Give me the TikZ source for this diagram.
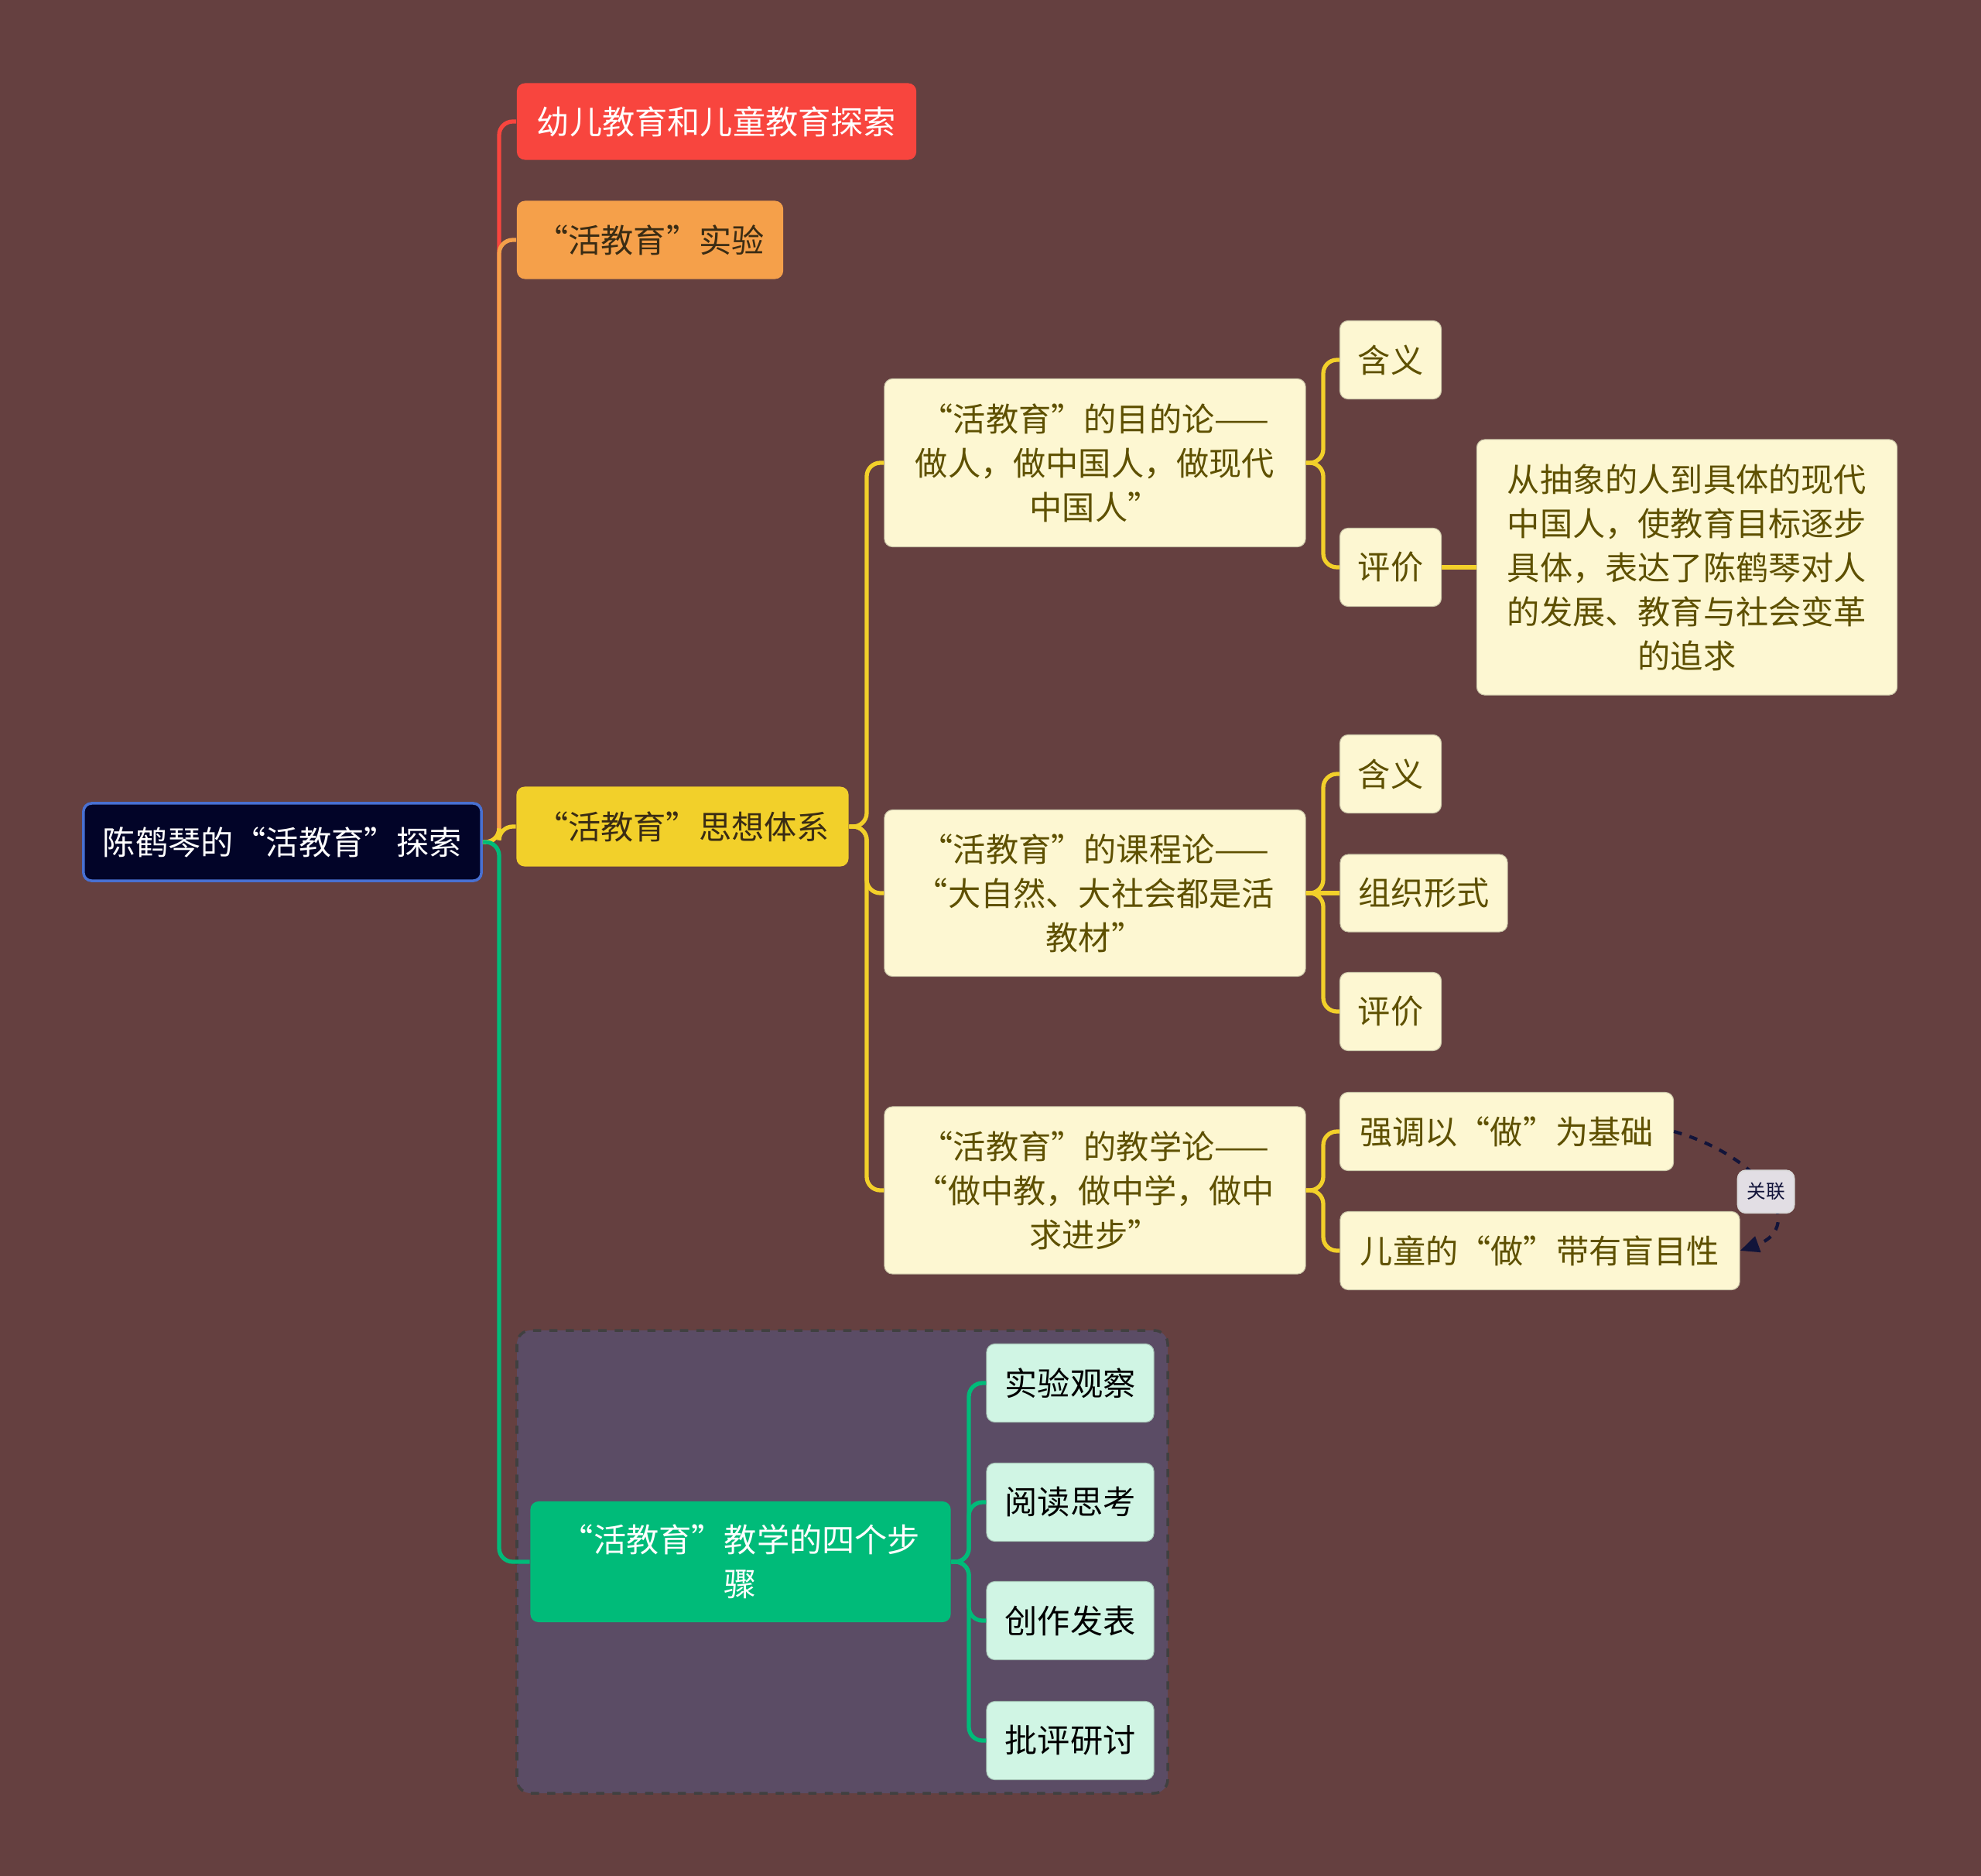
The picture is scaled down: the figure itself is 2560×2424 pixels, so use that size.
\documentclass[tikz,border=0pt]{standalone}
\usepackage{fontspec}
\newfontfamily\cjk{Noto Sans CJK SC}
\usetikzlibrary{arrows.meta}
\definecolor{bgbrown}{RGB}{101,64,64}
\definecolor{rootnavy}{RGB}{2,4,40}
\definecolor{rootline}{RGB}{72,112,210}
\definecolor{redn}{RGB}{248,69,62}
\definecolor{orangen}{RGB}{245,160,74}
\definecolor{yellown}{RGB}{242,208,42}
\definecolor{greenn}{RGB}{0,187,121}
\definecolor{creamn}{RGB}{253,247,210}
\definecolor{mintn}{RGB}{208,245,228}
\definecolor{boxpurple}{RGB}{91,76,101}
\definecolor{olivetext}{RGB}{94,80,0}
\definecolor{darktext}{RGB}{58,44,20}
\definecolor{relnavy}{RGB}{18,20,58}
\definecolor{tagfill}{RGB}{226,222,228}

\begin{document}
\begin{tikzpicture}[
    x=0.01cm, y=-0.01cm,
    box/.style={rounded corners=3pt, inner sep=0pt, align=center, font=\cjk\fontsize{12}{16.2}\selectfont},
    topic/.style={box, fill=#1},
    leaf/.style={box, fill=creamn, draw=creamn!80!black, line width=0.3pt, text=olivetext},
    mint/.style={box, fill=mintn, draw=mintn!80!black, line width=0.3pt, text=black},
    link/.style={line width=1.5pt, rounded corners=5pt, draw=#1},
    rel/.style={draw=relnavy, line width=1.2pt, dashed, -{Triangle[length=7pt,width=6pt]}},
    tag/.style={rounded corners=3pt, fill=tagfill, draw=white!70!gray, line width=0.5pt, inner sep=0pt,
        minimum width=0.73cm, minimum height=0.55cm, text=relnavy, font=\cjk\fontsize{7}{8}\selectfont}
]
    \useasboundingbox[fill=bgbrown] (0,0) rectangle (2560,2424);

    % group frame for the four steps
    \draw[fill=boxpurple, draw=black!75, dashed, line width=1pt, rounded corners=5pt] (668,1719) rectangle (1509,2317);

    % main topic and first level
    \node[box, fill=rootnavy, draw=rootline, line width=1pt, text=white, minimum width=5.14cm, minimum height=1.0cm] (root) at (365,1088) {陈鹤琴的“活教育”探索};
    \node[topic=redn, text=white, minimum width=5.16cm, minimum height=0.99cm] (t1) at (926,157) {幼儿教育和儿童教育探索};
    \node[topic=orangen, text=darktext, minimum width=3.44cm, minimum height=1.01cm] (t2) at (840,310) {“活教育”实验};
    \node[topic=yellown, text=darktext, minimum width=4.29cm, minimum height=1.03cm] (t3) at (882,1068) {“活教育”思想体系};
    \node[topic=greenn, text=white, minimum width=5.43cm, minimum height=1.56cm] (t4) at (957,2018) {“活教育”教学的四个步\\骤};

    % second level
    \node[leaf, minimum width=5.44cm, minimum height=2.17cm] (m1) at (1415,598) {“活教育”的目的论——\\做人，做中国人，做现代\\中国人”};
    \node[leaf, minimum width=5.44cm, minimum height=2.15cm] (m2) at (1415,1154) {“活教育”的课程论——\\“大自然、大社会都是活\\教材”};
    \node[leaf, minimum width=5.44cm, minimum height=2.16cm] (m3) at (1415,1538) {“活教育”的教学论——\\“做中教，做中学，做中\\求进步”};

    % third level
    \node[leaf, minimum width=1.31cm, minimum height=1.01cm] (a1) at (1797,465) {含义};
    \node[leaf, minimum width=1.31cm, minimum height=1.01cm] (a2) at (1797,733) {评价};
    \node[leaf, minimum width=5.43cm, minimum height=3.30cm] (a3) at (2180,733) {从抽象的人到具体的现代\\中国人，使教育目标逐步\\具体，表达了陈鹤琴对人\\的发展、教育与社会变革\\的追求};
    \node[leaf, minimum width=1.31cm, minimum height=1.01cm] (b1) at (1797,1000) {含义};
    \node[leaf, minimum width=2.16cm, minimum height=1.0cm] (b2) at (1840,1154) {组织形式};
    \node[leaf, minimum width=1.31cm, minimum height=1.01cm] (b3) at (1797,1307) {评价};
    \node[leaf, minimum width=4.31cm, minimum height=1.01cm] (c1) at (1947,1462) {强调以“做”为基础};
    \node[leaf, minimum width=5.16cm, minimum height=1.01cm] (c2) at (1990,1616) {儿童的“做”带有盲目性};

    % four steps
    \node[mint, minimum width=2.16cm, minimum height=1.01cm] (g1) at (1383,1787) {实验观察};
    \node[mint, minimum width=2.16cm, minimum height=1.01cm] (g2) at (1383,1941) {阅读思考};
    \node[mint, minimum width=2.16cm, minimum height=1.01cm] (g3) at (1383,2094) {创作发表};
    \node[mint, minimum width=2.16cm, minimum height=1.01cm] (g4) at (1383,2249) {批评研讨};

    % connectors
    \draw[link=redn] (root.east) -- (645,1088) |- (t1.west);
    \draw[link=orangen] (root.east) -- (645,1088) |- (t2.west);
    \draw[link=yellown] (root.east) -- (645,1088) |- (t3.west);
    \draw[link=greenn] (root.east) -- (645,1088) |- (t4.west);

    \foreach \m in {m1,m2,m3}
        \draw[link=yellown] (t3.east) -- (1120,1068) |- (\m.west);

    \foreach \a in {a1,a2}
        \draw[link=yellown] (m1.east) -- (1710,598) |- (\a.west);
    \draw[link=yellown] (a2.east) -- (a3.west);
    \foreach \b in {b1,b3}
        \draw[link=yellown] (m2.east) -- (1710,1154) |- (\b.west);
    \draw[link=yellown] (m2.east) -- (b2.west);
    \foreach \c in {c1,c2}
        \draw[link=yellown] (m3.east) -- (1710,1538) |- (\c.west);

    \foreach \g in {g1,g2,g3,g4}
        \draw[link=greenn] (t4.east) -- (1252,2018) |- (\g.west);

    % relation
    \draw[rel] (c1.east) .. controls (2280,1495) and (2335,1585) .. (c2.east)
        node[tag, pos=0.5, solid] {关联};
\end{tikzpicture}
\end{document}
